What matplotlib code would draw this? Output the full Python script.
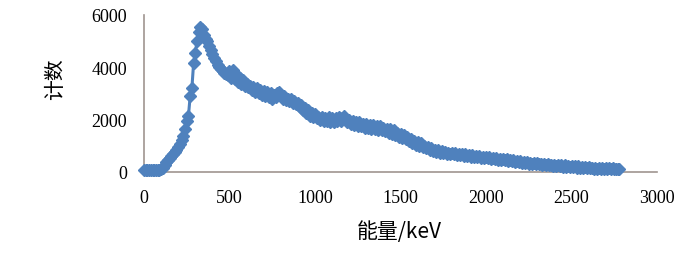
import numpy as np
import matplotlib.pyplot as plt

# energy channels, 10 keV step
energy = np.arange(0, 2790, 10)
counts = [
    90, 80, 70, 85, 75, 80, 70, 90, 85, 95,
    110, 160, 250, 370, 450, 520, 600, 670, 760, 850,
    950, 1080, 1220, 1380, 1650, 1950, 2150, 2900, 3200, 4150,
    4550, 5000, 5350, 5550, 5450, 5250, 5100, 5000, 4800, 4650,
    4500, 4350, 4250, 4100, 4000, 3950, 3850, 3800, 3750, 3700,
    3850, 3600, 3900, 3550, 3750, 3450, 3600, 3350, 3500, 3300,
    3350, 3250, 3300, 3150, 3250, 3050, 3200, 3000, 3150, 2950,
    3100, 2900, 3050, 2850, 3000, 2800, 2950, 2850, 3000, 3050,
    2950, 2800, 2900, 2750, 2800, 2700, 2800, 2650, 2700, 2600,
    2650, 2500, 2550, 2350, 2450, 2250, 2350, 2150, 2250, 2100,
    2200, 2050, 2100, 2000, 2100, 1950, 2050, 1950, 2100, 1900,
    2050, 1900, 2050, 1950, 2100, 1950, 2050, 2150, 2000, 1900,
    2000, 1850, 1950, 1800, 1900, 1750, 1900, 1750, 1850, 1700,
    1850, 1700, 1800, 1650, 1800, 1650, 1750, 1600, 1750, 1600,
    1700, 1550, 1650, 1500, 1650, 1450, 1600, 1400, 1500, 1350,
    1450, 1300, 1400, 1250, 1350, 1200, 1250, 1100, 1200, 1050,
    1150, 1000, 1100, 950, 1000, 900, 950, 850, 900, 800,
    850, 760, 830, 740, 800, 720, 760, 700, 740, 690,
    740, 670, 720, 650, 700, 640, 690, 620, 670, 610,
    660, 590, 640, 580, 620, 560, 610, 550, 590, 540,
    580, 520, 560, 500, 550, 490, 530, 470, 510, 460,
    500, 440, 480, 430, 460, 410, 440, 400, 420, 380,
    410, 360, 390, 340, 380, 320, 360, 310, 350, 300,
    330, 290, 320, 270, 310, 260, 300, 250, 280, 240,
    280, 230, 270, 220, 260, 200, 250, 190, 240, 190,
    230, 180, 220, 170, 210, 160, 200, 150, 190, 150,
    180, 140, 170, 130, 170, 120, 160, 120, 150, 110,
    150, 110, 140, 100, 140, 100, 130, 110, 120,
]
xticks = [0, 500, 1000, 1500, 2000, 2500, 3000]
yticks = [0, 2000, 4000, 6000]

fig = plt.figure(figsize=(7, 2.55), dpi=100)
ax = fig.add_axes([0.2057, 0.3216, 0.7329, 0.6157])

ax.plot(energy, counts, color='#4F81BD', lw=2.2, marker='D', ms=6,
        mec='#4F81BD', mfc='#4F81BD', clip_on=False, zorder=3)

ax.set_xlim(0, 3000)
ax.set_ylim(0, 6000)
ax.set_xticks(xticks)
ax.set_yticks(yticks)
ax.tick_params(length=0, labelsize=13, pad=12)
for lab in ax.get_xticklabels() + ax.get_yticklabels():
    lab.set_family('Liberation Serif')

for s in ['top', 'right']:
    ax.spines[s].set_visible(False)
for s in ['left', 'bottom']:
    ax.spines[s].set_color('#A09590')
    ax.spines[s].set_linewidth(1.2)

cjk = ['Noto Sans CJK SC', 'DejaVu Sans']
fig.text(0.079, 0.69, '计数', rotation=90, ha='center', va='center',
         fontsize=15, family=cjk)
fig.text(0.571, 0.09, '能量/keV', ha='center', va='center',
         fontsize=15, family=cjk)

fig.savefig('out.png')
